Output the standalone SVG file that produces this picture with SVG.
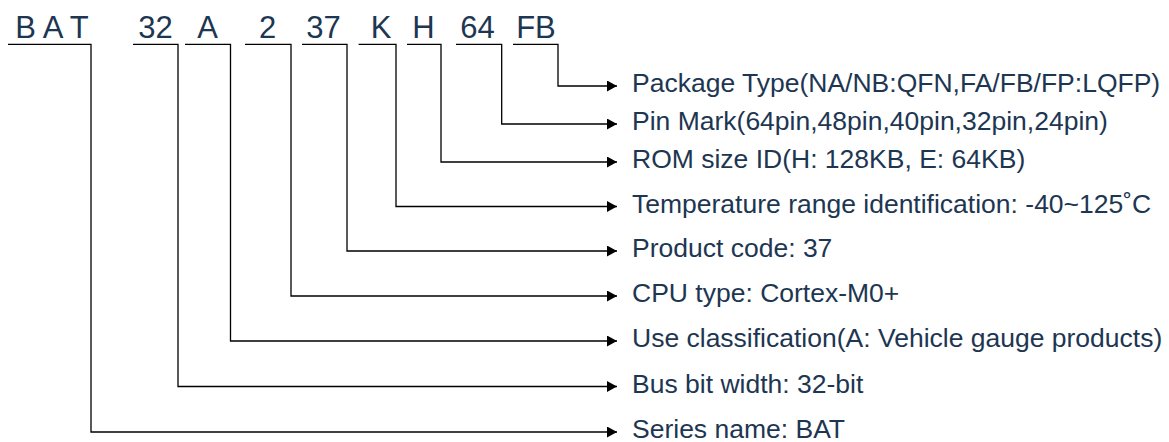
<svg xmlns="http://www.w3.org/2000/svg" width="1169" height="442" viewBox="0 0 1169 442">
  <style>
    .code { font-family: "Liberation Sans", Arial, sans-serif; font-size: 31px; fill: #1d3652; text-anchor: middle; }
    .label { font-family: "Liberation Sans", Arial, sans-serif; font-size: 26.5px; fill: #1d3652; }
    .conn { fill: none; stroke: #000; stroke-width: 1.3; }
  </style>
  <defs>
    <marker id="arrow" markerUnits="userSpaceOnUse" markerWidth="11" markerHeight="12" refX="10" refY="5.5" orient="auto">
      <path d="M0,0 L10,5.5 L0,11 Z" fill="#000"/>
    </marker>
  </defs>
  <rect width="1169" height="442" fill="#fff"/>

  <g id="code-BAT"><text class="code" x="52" y="38">B A T</text></g>
  <g id="code-32"><text class="code" x="155.5" y="38">32</text></g>
  <g id="code-A"><text class="code" x="207.5" y="38">A</text></g>
  <g id="code-2"><text class="code" x="267.5" y="38">2</text></g>
  <g id="code-37"><text class="code" x="323.5" y="38">37</text></g>
  <g id="code-K"><text class="code" x="381" y="38">K</text></g>
  <g id="code-H"><text class="code" x="423.5" y="38">H</text></g>
  <g id="code-64"><text class="code" x="477.5" y="38">64</text></g>
  <g id="code-FB"><text class="code" x="536" y="38">FB</text></g>

  <g id="connectors">
    <path class="conn" marker-end="url(#arrow)" d="M513,44.3 H558 V86 H617"/>
    <path class="conn" marker-end="url(#arrow)" d="M456,44.3 H501.7 V124 H617"/>
    <path class="conn" marker-end="url(#arrow)" d="M407,44.3 H441 V162 H617"/>
    <path class="conn" marker-end="url(#arrow)" d="M358.6,44.3 H396 V206.5 H617"/>
    <path class="conn" marker-end="url(#arrow)" d="M302,44.3 H347 V251 H617"/>
    <path class="conn" marker-end="url(#arrow)" d="M245,44.3 H291 V296 H617"/>
    <path class="conn" marker-end="url(#arrow)" d="M185,44.3 H230.5 V341 H617"/>
    <path class="conn" marker-end="url(#arrow)" d="M133,44.3 H178 V386.5 H617"/>
    <path class="conn" marker-end="url(#arrow)" d="M8,44.3 H91 V432 H617"/>
  </g>

  <g id="label-package"><text class="label" x="632" y="92">Package Type(NA/NB:QFN,FA/FB/FP:LQFP)</text></g>
  <g id="label-pin"><text class="label" x="632" y="130">Pin Mark(64pin,48pin,40pin,32pin,24pin)</text></g>
  <g id="label-rom"><text class="label" x="632" y="168">ROM size ID(H: 128KB, E: 64KB)</text></g>
  <g id="label-temp"><text class="label" x="632" y="212.5">Temperature range identification: -40~125˚C</text></g>
  <g id="label-product"><text class="label" x="632" y="257">Product code: 37</text></g>
  <g id="label-cpu"><text class="label" x="632" y="302">CPU type: Cortex-M0+</text></g>
  <g id="label-use"><text class="label" x="632" y="347">Use classification(A: Vehicle gauge products)</text></g>
  <g id="label-bus"><text class="label" x="632" y="392.5">Bus bit width: 32-bit</text></g>
  <g id="label-series"><text class="label" x="632" y="438">Series name: BAT</text></g>
</svg>
